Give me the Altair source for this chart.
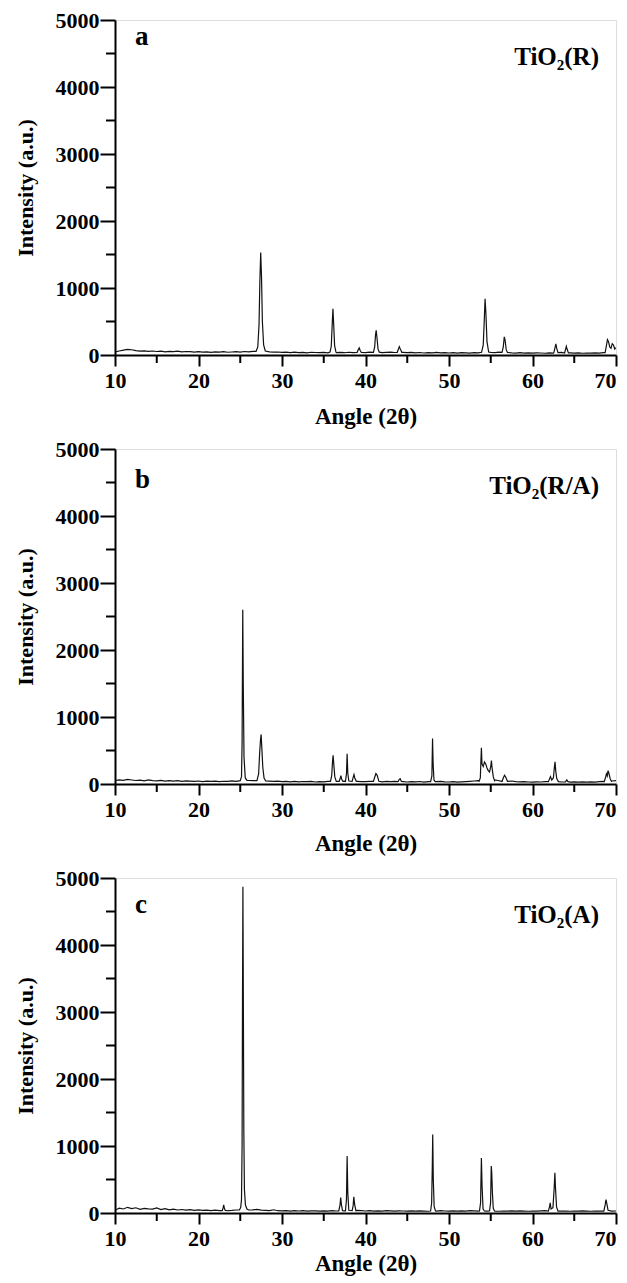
import altair as alt
import pandas as pd

# ---------------- data ----------------
angle_grid = [10.0, 10.5, 11.0, 11.5, 12.0, 12.5, 13.0, 13.5, 14.0, 14.5,
              15.0, 15.5, 16.0, 16.5, 17.0, 17.5, 18.0, 18.5, 19.0, 19.5,
              20.0, 20.5, 21.0, 21.5, 22.0, 22.5, 23.0, 23.5, 24.0, 24.5,
              25.0, 25.5, 26.0, 26.5, 27.0, 27.5, 28.0, 28.5, 29.0, 29.5,
              30.0, 30.5, 31.0, 31.5, 32.0, 32.5, 33.0, 33.5, 34.0, 34.5,
              35.0, 35.5, 36.0, 36.5, 37.0, 37.5, 38.0, 38.5, 39.0, 39.5,
              40.0, 40.5, 41.0, 41.5, 42.0, 42.5, 43.0, 43.5, 44.0, 44.5,
              45.0, 45.5, 46.0, 46.5, 47.0, 47.5, 48.0, 48.5, 49.0, 49.5,
              50.0, 50.5, 51.0, 51.5, 52.0, 52.5, 53.0, 53.5, 54.0, 54.5,
              55.0, 55.5, 56.0, 56.5, 57.0, 57.5, 58.0, 58.5, 59.0, 59.5,
              60.0, 60.5, 61.0, 61.5, 62.0, 62.5, 63.0, 63.5, 64.0, 64.5,
              65.0, 65.5, 66.0, 66.5, 67.0, 67.5, 68.0, 68.5, 69.0, 69.5,
              70.0]

base_a = [45, 60, 72, 85, 78, 66, 58, 62, 55, 60,
          52, 58, 48, 55, 50, 57, 46, 52, 49, 44,
          50, 42, 47, 40, 46, 43, 49, 41, 45, 50,
          44, 52, 47, 55, 60, 58, 50, 46, 42, 45,
          38, 44, 36, 42, 35, 40, 33, 41, 37, 34,
          39, 32, 40, 36, 38, 34, 41, 35, 45, 38,
          36, 42, 48, 39, 35, 40, 44, 37, 52, 40,
          34, 38, 32, 37, 30, 36, 33, 39, 31, 35,
          30, 36, 29, 34, 31, 28, 35, 33, 38, 44,
          40, 36, 42, 48, 38, 32, 29, 34, 28, 33,
          27, 32, 30, 26, 33, 29, 35, 40, 38, 32,
          28, 31, 26, 30, 27, 33, 29, 34, 45, 60,
          110]

base_b = [50, 62, 55, 68, 60, 52, 57, 48, 60, 50,
          46, 55, 44, 51, 42, 49, 40, 47, 43, 38,
          45, 36, 42, 39, 44, 35, 41, 38, 46, 40,
          44, 48, 52, 50, 55, 50, 46, 42, 38, 44,
          36, 40, 33, 38, 31, 37, 34, 39, 30, 36,
          33, 38, 35, 40, 36, 42, 38, 45, 40, 36,
          34, 38, 45, 36, 33, 40, 35, 38, 32, 36,
          30, 35, 31, 37, 29, 34, 32, 36, 38, 33,
          30, 34, 28, 33, 36, 40, 45, 50, 48, 52,
          58, 60, 48, 42, 55, 45, 36, 32, 35, 30,
          28, 33, 30, 36, 40, 38, 33, 30, 35, 28,
          32, 27, 31, 29, 33, 28, 34, 40, 50, 45,
          50]

base_c = [40, 72, 60, 85, 65, 78, 55, 70, 62, 58,
          75, 50, 66, 48, 58, 45, 52, 42, 50, 40,
          46, 38, 44, 36, 42, 35, 40, 34, 38, 45,
          50, 48, 52, 46, 55, 44, 40, 36, 48, 34,
          31, 36, 29, 34, 30, 35, 28, 33, 31, 27,
          32, 29, 34, 30, 36, 33, 38, 34, 40, 36,
          30, 34, 28, 32, 29, 35, 31, 27, 33, 30,
          28, 32, 27, 31, 29, 26, 32, 28, 34, 30,
          27, 31, 28, 33, 29, 34, 31, 28, 30, 27,
          32, 29, 26, 30, 28, 33, 27, 31, 29, 26,
          30, 27, 32, 35, 33, 29, 31, 27, 30, 26,
          29, 27, 31, 28, 26, 30, 28, 32, 29, 27,
          30]

peaks_a = [
    [(26.9, 55), (27.1, 120), (27.25, 450), (27.35, 1100), (27.45, 1530), (27.55, 1150), (27.65, 500), (27.8, 150), (28.0, 60)],
    [(35.75, 45), (35.9, 130), (36.0, 420), (36.1, 690), (36.2, 430), (36.3, 140), (36.45, 50)],
    [(39.0, 40), (39.15, 85), (39.25, 105), (39.35, 70), (39.5, 38)],
    [(40.95, 40), (41.1, 120), (41.2, 300), (41.28, 370), (41.38, 250), (41.5, 90), (41.65, 42)],
    [(43.8, 40), (43.95, 90), (44.05, 125), (44.15, 95), (44.35, 40)],
    [(53.9, 40), (54.1, 150), (54.22, 500), (54.32, 840), (54.42, 620), (54.55, 200), (54.75, 45)],
    [(56.35, 40), (56.5, 120), (56.62, 270), (56.72, 220), (56.85, 80), (57.0, 38)],
    [(62.55, 32), (62.7, 110), (62.8, 165), (62.9, 100), (63.05, 35)],
    [(63.85, 30), (63.98, 95), (64.05, 130), (64.15, 85), (64.3, 32)],
    [(68.7, 34), (68.85, 140), (68.98, 230), (69.1, 200), (69.25, 120), (69.4, 100), (69.55, 170), (69.7, 150), (69.85, 90)],
]

peaks_b = [
    [(25.0, 50), (25.15, 110), (25.22, 600), (25.3, 2600), (25.36, 1500), (25.45, 400), (25.6, 90), (25.8, 55)],
    [(27.0, 50), (27.2, 150), (27.32, 450), (27.42, 650), (27.5, 740), (27.58, 550), (27.7, 250), (27.85, 90), (28.05, 45)],
    [(35.8, 38), (35.95, 120), (36.05, 330), (36.12, 430), (36.2, 300), (36.32, 110), (36.5, 40)],
    [(36.85, 38), (36.98, 90), (37.05, 125), (37.15, 70), (37.3, 40)],
    [(37.6, 38), (37.72, 150), (37.8, 450), (37.88, 160), (38.0, 45)],
    [(38.4, 40), (38.55, 110), (38.62, 140), (38.72, 90), (38.9, 40)],
    [(40.95, 38), (41.1, 100), (41.25, 155), (41.4, 130), (41.6, 40)],
    [(43.9, 36), (44.05, 70), (44.15, 80), (44.3, 38)],
    [(47.8, 36), (47.95, 120), (48.03, 680), (48.1, 300), (48.2, 60), (48.35, 35)],
    [(53.6, 40), (53.75, 90), (53.88, 540), (53.95, 300), (54.1, 260), (54.25, 330), (54.4, 300), (54.55, 240),
     (54.7, 200), (54.85, 180), (55.0, 260), (55.08, 350), (55.15, 250), (55.3, 110), (55.45, 50)],
    [(56.35, 38), (56.5, 90), (56.65, 130), (56.8, 100), (57.0, 40)],
    [(61.9, 34), (62.05, 80), (62.15, 110), (62.3, 60), (62.5, 90), (62.62, 250), (62.7, 330), (62.78, 200), (62.9, 80), (63.1, 35)],
    [(63.95, 32), (64.1, 62), (64.25, 35)],
    [(68.6, 36), (68.75, 100), (68.85, 150), (68.95, 120), (69.05, 200), (69.15, 160), (69.3, 80), (69.45, 40)],
]

peaks_c = [
    [(22.85, 36), (22.95, 80), (23.02, 120), (23.1, 70), (23.2, 38)],
    [(24.9, 45), (25.05, 80), (25.15, 200), (25.22, 1000), (25.27, 3200), (25.32, 4870), (25.37, 3200),
     (25.43, 1200), (25.5, 350), (25.62, 120), (25.8, 60), (26.0, 45)],
    [(36.8, 32), (36.95, 120), (37.03, 230), (37.12, 120), (37.25, 35)],
    [(37.6, 32), (37.72, 200), (37.8, 850), (37.88, 300), (38.0, 40)],
    [(38.4, 35), (38.52, 110), (38.6, 240), (38.7, 130), (38.85, 35)],
    [(47.8, 30), (47.92, 150), (48.0, 700), (48.05, 1170), (48.12, 500), (48.22, 100), (48.38, 30)],
    [(53.65, 30), (53.78, 150), (53.88, 820), (53.96, 400), (54.08, 60), (54.25, 30)],
    [(54.85, 30), (54.98, 150), (55.06, 700), (55.12, 600), (55.2, 300), (55.3, 70), (55.45, 30)],
    [(61.9, 28), (62.05, 100), (62.12, 150), (62.22, 60), (62.45, 80), (62.6, 380), (62.68, 600), (62.75, 380), (62.88, 90), (63.05, 28)],
    [(68.55, 30), (68.7, 120), (68.8, 200), (68.9, 140), (69.05, 40)],
]

panel_letters = ["a", "b", "c"]
panel_names = ["TiO\u2082(R)", "TiO\u2082(R/A)", "TiO\u2082(A)"]

x_ticks = [10, 20, 30, 40, 50, 60, 70]
x_minor = [15, 25, 35, 45, 55, 65]
y_ticks = [0, 1000, 2000, 3000, 4000, 5000]
y_minor = [500, 1500, 2500, 3500, 4500]

# ---------------- layout ----------------
W, H = 501, 335
FONT = "Liberation Serif"
INK = "#111111"


def build(base, peaks):
    windows = [(p[0][0], p[-1][0]) for p in peaks]
    pts = [(x, y) for x, y in zip(angle_grid, base)
           if not any(lo <= x <= hi for lo, hi in windows)]
    for p in peaks:
        pts.extend(p)
    pts.sort()
    return pd.DataFrame(pts, columns=["angle", "intensity"])


xscale = alt.Scale(domain=[10, 70], nice=False, zero=False)
yscale = alt.Scale(domain=[0, 5000], nice=False)

last_x = x_ticks[-1]


def panel(df, letter, name, letter_y, title_pad):
    xaxis = alt.Axis(values=x_ticks, format="d", title="Angle (2\u03b8)", grid=False,
                     tickSize=11, tickWidth=2, tickColor="black",
                     domainWidth=2, domainColor="black",
                     labelFont=FONT, labelFontSize=22, labelFontWeight="bold", labelColor="black",
                     labelPadding=4, labelFlush=False,
                     labelAlign={"condition": {"test": f"datum.value === {last_x}", "value": "right"},
                                 "value": "center"},
                     titleFont=FONT, titleFontSize=23, titleFontWeight="bold", titleColor="black",
                     titlePadding=title_pad)
    yaxis = alt.Axis(values=y_ticks, format="d", title="Intensity (a.u.)", grid=False,
                     tickSize=15, tickWidth=2, tickColor="black",
                     domainWidth=2, domainColor="black",
                     labelFont=FONT, labelFontSize=22, labelFontWeight="bold", labelColor="black",
                     labelPadding=1,
                     titleFont=FONT, titleFontSize=22, titleFontWeight="bold", titleColor="black",
                     titlePadding=18)
    line = alt.Chart(df).mark_line(color=INK, strokeWidth=1.2, clip=True).encode(
        x=alt.X("angle:Q", scale=xscale, axis=xaxis),
        y=alt.Y("intensity:Q", scale=yscale, axis=yaxis),
    )
    xmin = alt.Chart(pd.DataFrame({"angle": x_minor})).mark_rule(color="black", strokeWidth=2).encode(
        x="angle:Q", y=alt.value(H), y2=alt.value(H + 8))
    ymin = alt.Chart(pd.DataFrame({"intensity": y_minor})).mark_rule(color="black", strokeWidth=2).encode(
        y="intensity:Q", x=alt.value(0), x2=alt.value(-9))
    let = alt.Chart(pd.DataFrame({"t": [letter]})).mark_text(
        font=FONT, fontSize=27, fontWeight="bold", color="black", align="left", baseline="alphabetic"
    ).encode(text="t:N", x=alt.value(20), y=alt.value(letter_y))
    lab = alt.Chart(pd.DataFrame({"t": [name]})).mark_text(
        font=FONT, fontSize=25, fontWeight="bold", color="black", align="right", baseline="alphabetic"
    ).encode(text="t:N", x=alt.value(W - 17), y=alt.value(45))
    return alt.layer(line, xmin, ymin, let, lab).properties(width=W, height=H)


charts = []
for base, peaks, letter, name, ly, tp in [
    (base_a, peaks_a, panel_letters[0], panel_names[0], 25, 14),
    (base_b, peaks_b, panel_letters[1], panel_names[1], 39, 12),
    (base_c, peaks_c, panel_letters[2], panel_names[2], 35, 3),
]:
    charts.append(panel(build(base, peaks), letter, name, ly, tp))

chart = alt.vconcat(*charts, spacing=94, bounds="flush").properties(
    padding={"left": 5, "top": 0, "right": 0, "bottom": 0}
).configure_view(stroke="black", strokeWidth=2).configure(background="white")

chart.save("out.html", embed_options={"renderer": "svg", "actions": False})
